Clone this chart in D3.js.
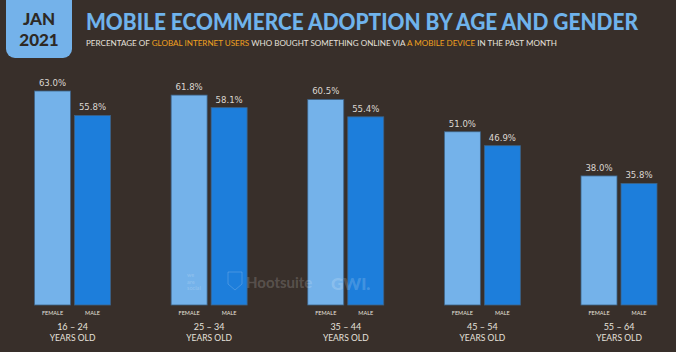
<!DOCTYPE html>
<html>
<head>
  <meta charset="utf-8" />
  <title>Mobile ecommerce adoption</title>
  <style>
    body { margin: 0; background: #382f2a; }
    svg { display: block; }
  </style>
  <script src="https://cdnjs.cloudflare.com/ajax/libs/d3/7.8.5/d3.min.js"></script>
</head>
<body>
  <div id="chartArea"></div>
  <script>
    var ages = ['16 – 24', '25 – 34', '35 – 44', '45 – 54', '55 – 64'];
    var genders = ['FEMALE', 'MALE'];
    var female = [63.0, 61.8, 60.5, 51.0, 38.0];
    var male = [55.8, 58.1, 55.4, 46.9, 35.8];

    var w = 676, h = 352;
    var colors = { FEMALE: '#74b2ea', MALE: '#1d7edb' };

    var svg = d3.select('#chartArea').append('svg')
      .attr('width', w)
      .attr('height', h);

    svg.append('rect').attr('width', w).attr('height', h).attr('fill', '#382f2a');

    // date badge
    svg.append('rect')
      .attr('x', 6).attr('y', -12)
      .attr('width', 66).attr('height', 70)
      .attr('rx', 9)
      .attr('fill', '#74b2ea');
    svg.append('text')
      .attr('x', 39).attr('y', 25)
      .attr('text-anchor', 'middle')
      .attr('font-family', 'Lato, sans-serif').attr('font-weight', 900)
      .attr('font-size', 17).attr('fill', '#2e2925')
      .text('JAN');
    svg.append('text')
      .attr('x', 39).attr('y', 46)
      .attr('text-anchor', 'middle')
      .attr('font-family', 'Lato, sans-serif').attr('font-weight', 900)
      .attr('font-size', 17).attr('fill', '#2e2925')
      .text('2021');

    // title and subtitle
    svg.append('text')
      .attr('x', 86).attr('y', 30)
      .attr('font-family', 'Lato, sans-serif').attr('font-weight', 900)
      .attr('font-size', 22).attr('fill', '#6fb3ec')
      .attr('textLength', 552).attr('lengthAdjust', 'spacingAndGlyphs')
      .text('MOBILE ECOMMERCE ADOPTION BY AGE AND GENDER');

    var sub = svg.append('text')
      .attr('x', 86).attr('y', 46)
      .attr('font-family', 'Lato, sans-serif')
      .attr('font-size', 8.3).attr('fill', '#e6e1dc')
      .attr('textLength', 471).attr('lengthAdjust', 'spacingAndGlyphs');
    [['PERCENTAGE OF ', '#e6e1dc'], ['GLOBAL INTERNET USERS', '#f0a020'],
     [' WHO BOUGHT SOMETHING ONLINE VIA ', '#e6e1dc'], ['A MOBILE DEVICE', '#f0a020'],
     [' IN THE PAST MONTH', '#e6e1dc']].forEach(function (p) {
      sub.append('tspan').attr('fill', p[1]).text(p[0]);
    });

    // scales
    var xScale = d3.scalePoint()
      .domain(ages)
      .range([72.5, 619]);

    var x1 = d3.scaleBand()
      .domain(genders)
      .range([-38, 38])
      .paddingInner(0.1);

    var yScale = d3.scaleLinear()
      .domain([0, 63])
      .range([305, 91]);

    var rows = ages.map(function (a, i) {
      return { age: a, values: [{ g: 'FEMALE', v: female[i] }, { g: 'MALE', v: male[i] }] };
    });

    var groups = svg.selectAll('g.group')
      .data(rows)
      .enter()
      .append('g')
      .attr('class', 'group')
      .attr('transform', d => 'translate(' + xScale(d.age) + ',0)');

    groups.selectAll('rect')
      .data(d => d.values)
      .enter()
      .append('rect')
      .attr('x', d => x1(d.g))
      .attr('y', d => yScale(d.v))
      .attr('width', x1.bandwidth())
      .attr('height', d => yScale(0) - yScale(d.v))
      .attr('fill', d => colors[d.g])
      .attr('stroke', '#3d6285')
      .attr('stroke-width', 0.8);

    groups.selectAll('text.val')
      .data(d => d.values)
      .enter()
      .append('text')
      .attr('class', 'val')
      .attr('x', d => x1(d.g) + x1.bandwidth() / 2)
      .attr('y', d => yScale(d.v) - 5)
      .attr('text-anchor', 'middle')
      .attr('font-family', '"DejaVu Sans Condensed", sans-serif')
      .attr('font-size', 9.5).attr('fill', '#dcd7d2')
      .text(d => d.v.toFixed(1) + '%');

    groups.selectAll('text.gen')
      .data(d => d.values)
      .enter()
      .append('text')
      .attr('class', 'gen')
      .attr('x', d => x1(d.g) + x1.bandwidth() / 2)
      .attr('y', 315)
      .attr('text-anchor', 'middle')
      .attr('font-family', 'Lato, sans-serif')
      .attr('font-size', 5.5).attr('fill', '#e6e1dc')
      .text(d => d.g);

    groups.append('text')
      .attr('y', 330)
      .attr('text-anchor', 'middle')
      .attr('font-family', 'Lato, sans-serif')
      .attr('font-size', 9).attr('fill', '#e6e1dc')
      .text(d => d.age);

    groups.append('text')
      .attr('y', 341)
      .attr('text-anchor', 'middle')
      .attr('font-family', 'Lato, sans-serif')
      .attr('font-size', 8.5).attr('fill', '#e6e1dc')
      .text('YEARS OLD');

    // watermark
    var wm = svg.append('g').attr('fill', '#ffffff').attr('fill-opacity', 0.18)
      .attr('font-family', 'Lato, sans-serif').attr('font-weight', 700);
    ['we', 'are', 'social'].forEach(function (t, i) {
      wm.append('text').attr('x', 187).attr('y', 277 + i * 6.5)
        .attr('font-size', 5.5).text(t);
    });
    wm.append('path')
      .attr('d', 'M228,272 h14 v12 l-7,6 l-7,-6 z')
      .attr('fill', 'none').attr('stroke', '#ffffff').attr('stroke-opacity', 0.18);
    wm.append('text').attr('x', 246).attr('y', 288).attr('font-size', 15).text('Hootsuite');
    wm.append('text').attr('x', 331).attr('y', 290).attr('font-size', 17).attr('font-weight', 900).text('GWI.');
  </script>
</body>
</html>
